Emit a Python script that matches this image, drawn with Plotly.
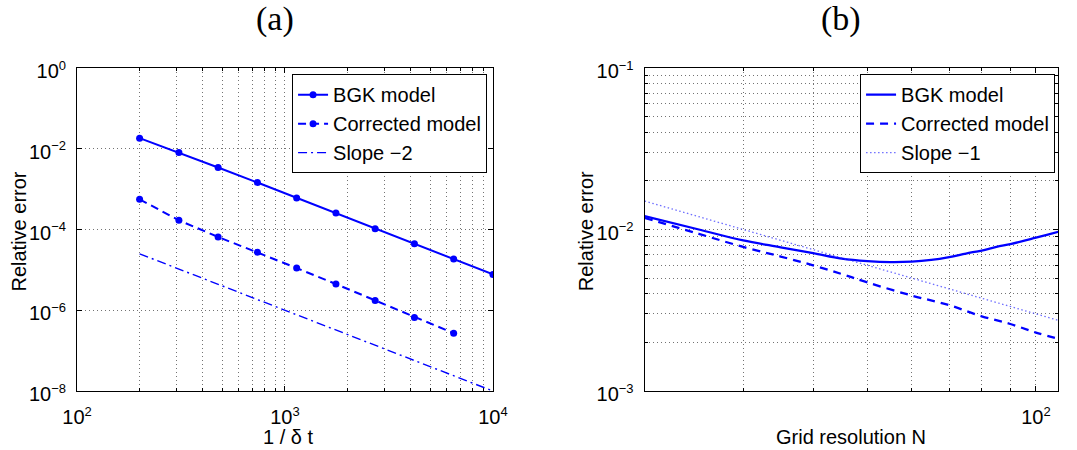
import plotly.graph_objects as go

# ---------------- data: panel (a) ----------------
inv_dt = [200, 309, 477, 737, 1138, 1758, 2714, 4192, 6473, 10000]
bgk_a = [1.83e-2, 8.07e-3, 3.43e-3, 1.455e-3, 6.06e-4, 2.57e-4, 1.05e-4, 4.46e-5, 1.86e-5, 7.73e-6]
inv_dt_corr = [200, 309, 477, 737, 1138, 1758, 2714, 4192, 6473]
corr_a = [5.61e-4, 1.69e-4, 6.53e-5, 2.72e-5, 1.11e-5, 4.46e-6, 1.75e-6, 6.63e-7, 2.71e-7]
slope2_a = [2.5e-5, 1.047e-5, 4.39e-6, 1.84e-6, 7.72e-7, 3.24e-7, 1.36e-7, 5.69e-8, 2.39e-8, 1.0e-8]

# ---------------- data: panel (b) ----------------
N_bgk = [20, 25, 30, 35, 40, 45, 50, 55, 60, 65, 70, 75, 80, 85, 90, 95, 100, 105, 110]
bgk_b = [0.0121, 0.0100, 0.00855, 0.00776, 0.00714, 0.0066, 0.00637, 0.00628, 0.00632,
         0.00648, 0.00675, 0.0071, 0.00741, 0.0078, 0.00813, 0.0085, 0.00891, 0.0093, 0.0097]
N_corr = [20, 25, 30, 35, 40, 45, 50, 60, 70, 80, 90, 100, 110]
corr_b = [0.0118, 0.0094, 0.0078, 0.0068, 0.0060, 0.0053, 0.0047, 0.0039, 0.0034,
          0.0029, 0.0026, 0.0023, 0.0021]
N_slope = [20, 110]
slope1_b = [0.015, 0.00273]

# tick labels
SUP = "<sup><span style='font-size:13px'>{}</span></sup>"
xa_tickvals = [100, 1000, 10000]
xa_ticktext = ["10" + SUP.format(e) for e in ["2", "3", "4"]]
ya_tickvals = [1, 1e-2, 1e-4, 1e-6, 1e-8]
ya_ticktext = ["10" + SUP.format(e) for e in ["0", "−2", "−4", "−6", "−8"]]
xb_tickvals = [100]
xb_ticktext = ["10" + SUP.format("2")]
yb_tickvals = [1e-1, 1e-2, 1e-3]
yb_ticktext = ["10" + SUP.format(e) for e in ["−1", "−2", "−3"]]

BLUE = "#0000ff"
FONT = "Liberation Sans, Arial, Helvetica, sans-serif"
GRID = "rgba(0,0,0,0.55)"
GDASH = "1px,3px"

fig = go.Figure()

# panel (a)
fig.add_trace(go.Scatter(x=inv_dt, y=bgk_a, mode="lines+markers", name="BGK model",
                         line=dict(color=BLUE, width=2), marker=dict(size=7, color=BLUE),
                         xaxis="x", yaxis="y", legend="legend"))
fig.add_trace(go.Scatter(x=inv_dt_corr, y=corr_a, mode="lines+markers", name="Corrected model",
                         line=dict(color=BLUE, width=2, dash="8px,5px"), marker=dict(size=7, color=BLUE),
                         xaxis="x", yaxis="y", legend="legend"))
fig.add_trace(go.Scatter(x=inv_dt, y=slope2_a, mode="lines", name="Slope −2",
                         line=dict(color=BLUE, width=1.4, dash="9px,4px,2px,4px"),
                         xaxis="x", yaxis="y", legend="legend"))

# panel (b)
fig.add_trace(go.Scatter(x=N_bgk, y=bgk_b, mode="lines", name="BGK model",
                         line=dict(color=BLUE, width=2.3, shape="spline"),
                         xaxis="x2", yaxis="y2", legend="legend2"))
fig.add_trace(go.Scatter(x=N_corr, y=corr_b, mode="lines", name="Corrected model",
                         line=dict(color=BLUE, width=2.3, dash="8px,6px", shape="spline"),
                         xaxis="x2", yaxis="y2", legend="legend2"))
fig.add_trace(go.Scatter(x=N_slope, y=slope1_b, mode="lines", name="Slope −1",
                         line=dict(color="rgba(60,60,255,0.75)", width=1.3, dash="1.5px,2.5px"),
                         xaxis="x2", yaxis="y2", legend="legend2"))

axis_common = dict(
    type="log", showline=True, linecolor="black", linewidth=1, mirror="ticks",
    ticks="inside", ticklen=5, tickcolor="black", tickwidth=1,
    showgrid=True, gridcolor=GRID, griddash=GDASH, gridwidth=1,
    zeroline=False, tickfont=dict(family=FONT, size=20, color="black"),
    tickmode="array",
)

minor_xa = [m * 10 ** e for e in (2, 3) for m in range(2, 10)]
minor_yb = [m * 10 ** e for e in (-3, -2) for m in range(2, 10)]
minor_xb = [m * 10 for m in range(3, 10)]

def minor(vals, grid=True):
    return dict(tickmode="array", tickvals=vals, ticks="inside", ticklen=3,
                tickcolor="black", showgrid=grid, gridcolor=GRID, griddash=GDASH, gridwidth=1)

LEG = dict(xanchor="right", yanchor="top", bgcolor="white", bordercolor="black",
           borderwidth=1, font=dict(family=FONT, size=20), tracegroupgap=0)

fig.update_layout(
    xaxis=dict(axis_common, domain=[0, 0.424], range=[2, 4], anchor="y",
               tickvals=xa_tickvals, ticktext=xa_ticktext, minor=minor(minor_xa),
               ticklabelstandoff=8),
    yaxis=dict(axis_common, domain=[0, 1], range=[-8, 0], anchor="x",
               tickvals=ya_tickvals, ticktext=ya_ticktext,
               ticklabelstandoff=6, ticklabelshift=3),
    xaxis2=dict(axis_common, domain=[0.5786, 1], range=[1.30103, 2.0394], anchor="y2",
                tickvals=xb_tickvals, ticktext=xb_ticktext, minor=minor(minor_xb),
                ticklabelstandoff=8),
    yaxis2=dict(axis_common, domain=[0, 1], range=[-3, -1], anchor="x2",
                tickvals=yb_tickvals, ticktext=yb_ticktext, minor=minor(minor_yb),
                ticklabelstandoff=6, ticklabelshift=3),
    width=1077, height=450,
    margin=dict(l=77, r=4, t=68, b=59),
    paper_bgcolor="white", plot_bgcolor="white",
    font=dict(family=FONT, color="black", size=20),
    legend=dict(LEG, x=0.418, y=0.981),
    legend2=dict(LEG, x=0.997, y=0.981),
    annotations=[
        dict(text="(a)", x=0.2018, y=1.1517, xref="paper", yref="paper", showarrow=False,
             xanchor="center", yanchor="middle",
             font=dict(family="Liberation Serif, Times New Roman, serif", size=34)),
        dict(text="(b)", x=0.779, y=1.1517, xref="paper", yref="paper", showarrow=False,
             xanchor="center", yanchor="middle",
             font=dict(family="Liberation Serif, Times New Roman, serif", size=34)),
        dict(text="Relative error", x=-0.0587, y=0.495, xref="paper", yref="paper",
             showarrow=False, textangle=-90, xanchor="center", yanchor="middle",
             font=dict(family=FONT, size=20)),
        dict(text="Relative error", x=0.519, y=0.495, xref="paper", yref="paper",
             showarrow=False, textangle=-90, xanchor="center", yanchor="middle",
             font=dict(family=FONT, size=20)),
        dict(text="1 / δ t", x=0.2149, y=-0.142, xref="paper", yref="paper",
             showarrow=False, xanchor="center", yanchor="middle",
             font=dict(family=FONT, size=20)),
        dict(text="Grid resolution N", x=0.789, y=-0.142, xref="paper", yref="paper",
             showarrow=False, xanchor="center", yanchor="middle",
             font=dict(family=FONT, size=20)),
    ],
)

fig.write_html("out.html")
